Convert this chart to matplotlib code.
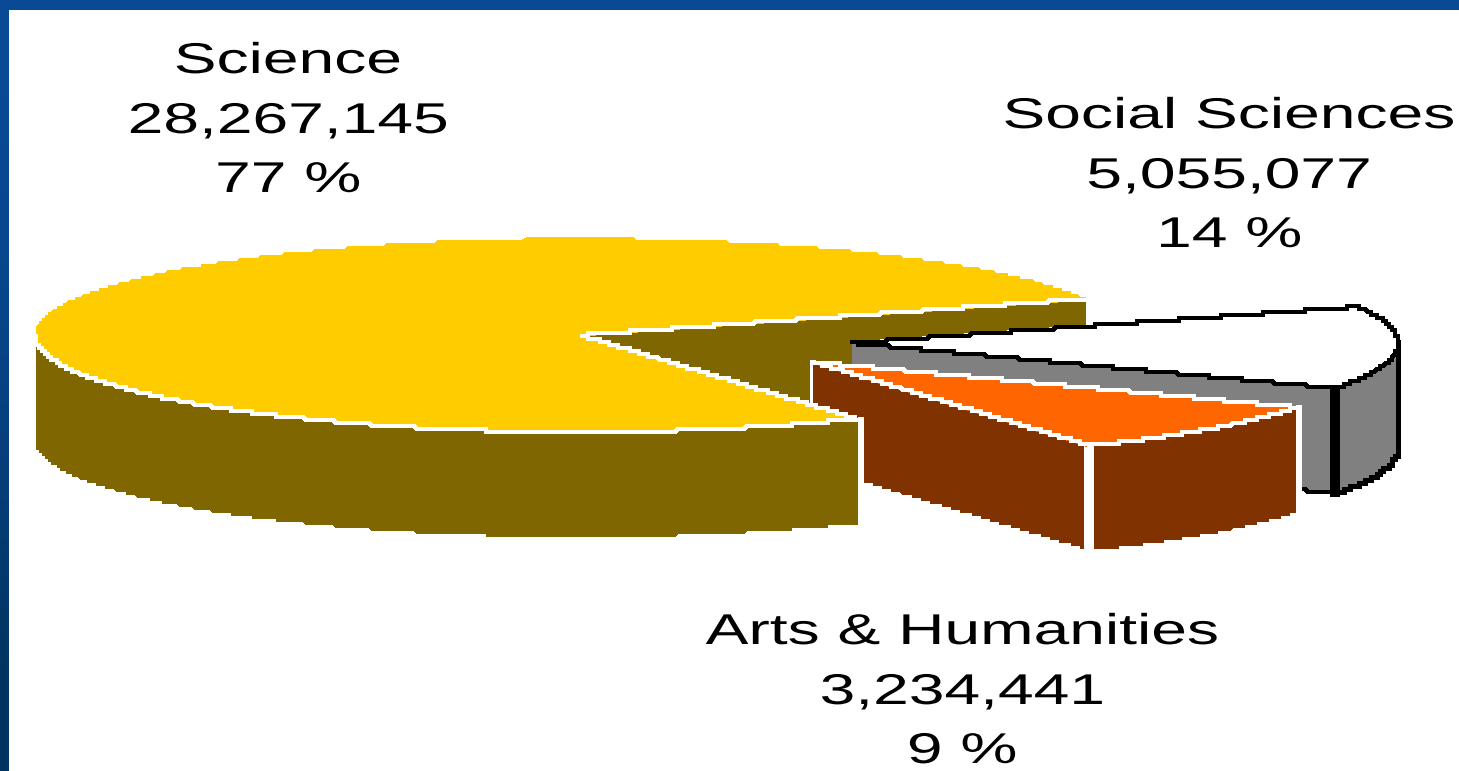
import numpy as np
import matplotlib
matplotlib.use("Agg")
import matplotlib.pyplot as plt
from matplotlib.patches import Rectangle
from matplotlib.patheffects import AbstractPathEffect
from matplotlib.transforms import Affine2D

names = ["Science", "Arts & Humanities", "Social Sciences"]
values = [28267145, 3234441, 5055077]
percents = [77, 9, 14]

top_colors = ["#FFCC00", "#FF6600", "#FFFFFF"]
wall_colors = ["#806600", "#803300", "#808080"]

# pie geometry, in picture pixels
W, H = 1459, 771
RX, RY, DEPTH = 546, 97, 105
START = 22
CENTERS = [(581, 335), (814, 362), (852, 343)]
PIXEL = 3


class StretchX(AbstractPathEffect):
    # the reference font is a bitmap one, much wider than anything installed
    def __init__(self, sx, cx):
        super().__init__()
        self.sx = sx
        self.cx = cx

    def draw_path(self, renderer, gc, tpath, affine, rgbFace=None):
        a = affine + Affine2D().translate(-self.cx, 0).scale(self.sx, 1).translate(self.cx, 0)
        renderer.draw_path(gc, tpath, a, rgbFace)


def snap(pts):
    return np.round(np.asarray(pts, dtype=float) / PIXEL) * PIXEL


def rim(c, a0, a1):
    t = np.radians(np.linspace(a0, a1, 700))
    return np.column_stack([c[0] + RX * np.cos(t), c[1] - RY * np.sin(t)])


def spoke(c, a):
    p = rim(c, a, a)[0]
    s = np.linspace(0, 1, 500)[:, None]
    return np.asarray(c) + s * (p - np.asarray(c))


def fill(ax, pts, color, z):
    pts = snap(pts)
    ax.fill(pts[:, 0], pts[:, 1], color=color, lw=0, antialiased=False, zorder=z)


def line(ax, pts, color, lw, z):
    pts = snap(pts)
    ax.plot(pts[:, 0], pts[:, 1], color=color, lw=lw, antialiased=False,
            solid_joinstyle="miter", zorder=z)


def cut_wall(ax, c, a, color, edge, z):
    s = spoke(c, a)
    low = s + [0, DEPTH]
    fill(ax, np.vstack([s, low[::-1]]), color, z)
    line(ax, s, edge, 2.4, z + 0.2)


def outer_wall(ax, c, a0, a1, color, z):
    r = rim(c, a0, a1)
    fill(ax, np.vstack([r, (r + [0, DEPTH])[::-1]]), color, z)


fig = plt.figure(figsize=(W / 100, H / 100), dpi=100)
ax = fig.add_axes([0, 0, 1, 1])
ax.set_xlim(0, W)
ax.set_ylim(H, 0)
ax.axis("off")

# blue slide background behind the white panel
grad = np.array([[10, 74, 148], [8, 70, 140], [6, 62, 120], [0, 52, 96]], dtype=np.uint8)[:, None, :]
ax.imshow(grad, extent=[0, W, H, 0], aspect="auto", interpolation="bilinear", zorder=0)
ax.add_patch(Rectangle((9, 10), W - 9, H - 10, fc="white", ec="none", zorder=1))

angles = np.array(values) / sum(values) * 360
a_sci = (START, START + angles[0])
a_art = (a_sci[1] - 360, a_sci[1] - 360 + angles[1])
a_soc = (a_art[1], START)

c_sci, c_art, c_soc = CENTERS

# notch wall of Science goes behind the two exploded slices
cut_wall(ax, c_sci, a_sci[0], wall_colors[0], "white", 2)

# Social Sciences
cut_wall(ax, c_soc, a_soc[0], wall_colors[2], "black", 3)
outer_wall(ax, c_soc, a_soc[0], 0, wall_colors[2], 3)
r = rim(c_soc, a_soc[0], 0)
line(ax, r + [0, DEPTH], "black", 2.4, 3.5)
line(ax, spoke(c_soc, a_soc[0]) + [0, DEPTH], "black", 2.4, 3.5)
line(ax, np.array([r[-1], r[-1] + [0, DEPTH]]), "black", 2.4, 3.5)
line(ax, np.array([r[0], r[0] + [0, DEPTH]]), "black", 6, 3.5)
top = np.vstack([[c_soc], rim(c_soc, a_soc[0], a_soc[1])])
fill(ax, top, top_colors[2], 4)
line(ax, rim(c_soc, a_soc[0], a_soc[1]), "black", 2.4, 4.2)
line(ax, spoke(c_soc, a_soc[0]), "black", 2.4, 4.2)
line(ax, spoke(c_soc, a_soc[1]), "black", 2.4, 4.2)

# Arts & Humanities
s = spoke(c_art, a_art[0])
line(ax, np.array([s[0], s[0] + [0, DEPTH]]), "white", 4, 5)
cut_wall(ax, c_art, a_art[0], wall_colors[1], "white", 5)
outer_wall(ax, c_art, a_art[0], a_art[1], wall_colors[1], 5)
r = rim(c_art, a_art[0], a_art[1])
line(ax, np.array([r[0], r[0] + [0, DEPTH]]), "white", 6, 5.5)
line(ax, np.array([r[-1] + [3, 0], r[-1] + [3, DEPTH]]), "white", 4, 5.5)
fill(ax, np.vstack([[c_art], r]), top_colors[1], 6)
line(ax, r, "white", 2.6, 6.2)
line(ax, spoke(c_art, a_art[0]), "white", 2.6, 6.2)
line(ax, spoke(c_art, a_art[1]), "white", 2.6, 6.2)

# Science top and front wall sit over everything on the left
outer_wall(ax, c_sci, 180, a_sci[1], wall_colors[0], 7)
r = rim(c_sci, a_sci[0], a_sci[1])
fill(ax, np.vstack([[c_sci], r]), top_colors[0], 8)
line(ax, rim(c_sci, 180, a_sci[1]), "white", 2.4, 8.2)
line(ax, spoke(c_sci, a_sci[0]), "white", 2.4, 8.2)
line(ax, spoke(c_sci, a_sci[1]), "white", 2.4, 8.2)
e = rim(c_sci, a_sci[1], a_sci[1])[0]
line(ax, np.array([e + [3, 0], e + [3, DEPTH]]), "white", 4, 6.9)

# labels
label_x = [288, 962, 1229]
label_y = [(73, 133, 192), (644, 704, 763), (128, 188, 247)]
for name, val, pct, x, ys in zip(names, values, percents, label_x, label_y):
    lines = [name, f"{val:,}", f"{pct} %"]
    for txt, y in zip(lines, ys):
        t = ax.text(x, y, txt, ha="center", va="baseline", fontsize=31,
                    family="Liberation Sans", color="black", zorder=10)
        t.set_path_effects([StretchX(1.49, ax.transData.transform((x, y))[0])])

fig.savefig("out.png", dpi=100)
